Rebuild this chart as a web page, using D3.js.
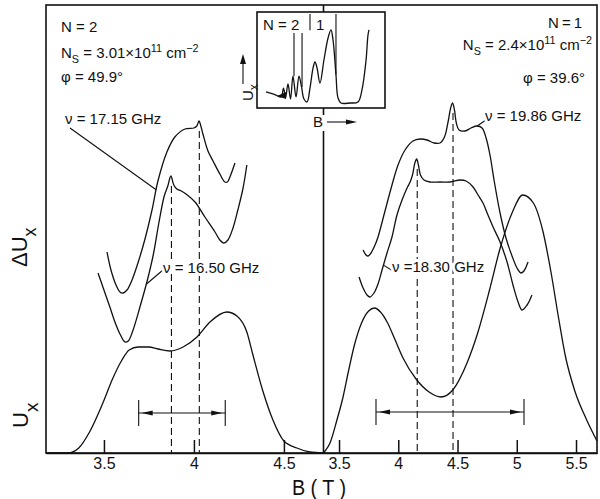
<!DOCTYPE html>
<head>
<meta charset="utf-8">
<script src="https://cdn.jsdelivr.net/npm/d3@7"></script>
<style>
    body { margin: 0; background: #fff; }
    svg { display: block; }
    text { font-family: "Liberation Sans", Arial, sans-serif; fill: #111; }
    .axis path, .axis line { stroke: #111; stroke-width: 1.5; }
    .axis text { font-size: 16px; }
    .curve { fill: none; stroke: #111; stroke-width: 1.3; }
    .dash { stroke: #111; stroke-width: 1.1; stroke-dasharray: 7 4; }
    .thin { stroke: #111; stroke-width: 1.1; }
    .halo { paint-order: stroke; stroke: #fff; stroke-width: 6px; stroke-linejoin: round; }
</style>
</head>
<body>
<script>
    // ---- data (B in tesla, signal in arbitrary units) ----
    var leftTicks = [3.5, 4, 4.5];
    var rightTicks = [3.5, 4, 4.5, 5, 5.5];

    // N = 2 panel
    var leftUx = [[3.178,0],[3.30,0],[3.36,5],[3.42,21],[3.494,50],[3.55,75],[3.60,93],[3.64,103],[3.69,106],
        [3.75,106],[3.80,104],[3.867,102],[3.94,106],[4.017,116],[4.089,131],[4.183,141],[4.239,137],
        [4.294,121],[4.328,98],[4.383,62],[4.439,33],[4.5,12],[4.572,5],[4.644,1],[4.72,0]];
    var left1715 = [[3.517,201],[3.539,183],[3.567,168],[3.589,161],[3.606,160],[3.628,163],[3.656,173],
        [3.689,190],[3.728,214],[3.767,243],[3.80,272],[3.85,301],[3.894,316],[3.95,324],[4.0,325],
        [4.016,327],[4.028,332],[4.04,326],[4.05,319],[4.078,302],[4.106,292],[4.144,279],[4.172,271],
        [4.186,271],[4.2,276],[4.228,290]];
    var left1650 = [[3.467,180],[3.50,163],[3.533,146],[3.561,131],[3.589,119],[3.617,111],[3.635,112],
        [3.66,122],[3.70,146],[3.74,172],[3.775,199],[3.805,230],[3.835,257],[3.855,267],[3.872,277],
        [3.888,268],[3.905,264],[3.93,262],[3.956,259],[4.006,251],[4.061,236],[4.117,221],[4.144,213],
        [4.167,210],[4.189,213],[4.217,225],[4.244,243],[4.272,264],[4.294,288]];
    var leftDashed = [3.875, 4.03];
    var leftRange = [3.693, 4.174];

    // N = 1 panel
    var rightUx = [[3.369,0],[3.382,2],[3.424,10],[3.48,32],[3.534,56],[3.58,82],[3.63,108],[3.69,130],
        [3.75,142],[3.80,145],[3.85,141],[3.91,130],[3.97,114],[4.04,95],[4.15,74],[4.26,61],[4.36,56],
        [4.46,63],[4.58,90],[4.67,120],[4.77,163],[4.86,205],[4.96,240],[5.05,258],[5.14,250],[5.22,222],
        [5.29,180],[5.35,137],[5.41,97],[5.49,62],[5.59,33],[5.677,12]];
    var right1986 = [[3.703,203],[3.728,198],[3.745,197],[3.77,200],[3.804,208],[3.829,216],[3.888,242],
        [3.947,268],[3.998,288],[4.057,303],[4.124,312],[4.184,314],[4.243,313],[4.302,310],[4.352,310],
        [4.39,316],[4.42,331],[4.442,345],[4.458,350],[4.474,343],[4.49,330],[4.513,323],[4.563,322],
        [4.614,325],[4.665,327],[4.707,325],[4.741,315],[4.774,298],[4.808,273],[4.859,240],[4.909,215],
        [4.96,197],[5.002,185],[5.036,180],[5.06,182],[5.095,191]];
    var right1830 = [[3.669,176],[3.703,165],[3.736,158],[3.762,156],[3.795,160],[3.829,169],[3.863,183],
        [3.905,200],[3.947,216],[3.989,238],[4.032,253],[4.074,265],[4.10,271],[4.12,278],[4.14,290],
        [4.155,294],[4.17,288],[4.187,278],[4.217,273],[4.268,271],[4.352,271],[4.437,271],[4.521,273],
        [4.572,272],[4.631,266],[4.673,258],[4.715,250],[4.757,238],[4.80,226],[4.859,211],[4.918,191],
        [4.968,168],[5.011,151],[5.044,143],[5.087,148],[5.128,158]];
    var rightDashed = [4.16, 4.462];
    var rightRange = [3.812, 5.061];

    // inset: U_x vs B sketch (arbitrary 0-100 units)
    var insetTrace = [[7,16.7],[14.8,13.5],[18.8,11.5],[20.7,20.8],[22.3,10.4],[24.2,25],[26.2,9.4],
        [28.1,33.3],[30.5,11.5],[32.8,33.3],[34.8,21.9],[36.7,9.4],[39.1,6.3],[41.4,20.8],[43.8,41.7],
        [45.3,47.9],[46.9,41.7],[49.2,26],[52.3,50],[55.5,72.9],[57.8,81.3],[59.4,70.8],[61.7,34.4],
        [63.3,10.4],[65.6,5.2],[72.7,5.2],[78.9,6.3],[82,18.8],[85.2,50],[86.7,76],[87.5,81.3]];
    var insetMarks = [[28.9, 33, 78], [35.2, 22, 78], [41.4, 81, 98], [61.7, 35, 98]];

    // ---- drawing ----
    var svg = d3.select("body").append("svg")
        .attr("width", 600)
        .attr("height", 499);

    var y = d3.scaleLinear().domain([0, 448]).range([453, 5]);
    var xL = d3.scaleLinear().domain([3.178, 4.72]).range([46, 323.5]);
    var xR = d3.scaleLinear().domain([3.369, 5.677]).range([323.5, 597]);

    // frame
    svg.append("rect").attr("x", 46).attr("y", 5).attr("width", 551).attr("height", 448)
        .attr("fill", "none").attr("stroke", "#111").attr("stroke-width", 1.6);
    [[5, 12], [108, 115], [131, 453]].forEach(function (s) {
        svg.append("line").attr("x1", 323.5).attr("x2", 323.5).attr("y1", s[0]).attr("y2", s[1])
            .attr("stroke", "#111").attr("stroke-width", 1.6);
    });

    function drawAxis(x, ticks) {
        var g = svg.append("g").attr("class", "axis").attr("transform", "translate(0,453)")
            .call(d3.axisBottom(x).tickValues(ticks).tickSize(-13).tickSizeOuter(0).tickPadding(5)
                .tickFormat(d3.format("~g")));
        g.attr("font-family", null).attr("font-size", null);
    }
    drawAxis(xL, leftTicks);
    drawAxis(xR, rightTicks);

    function peakNear(series, b) {
        return d3.max(series.filter(function (d) { return Math.abs(d[0] - b) < 0.03; }), function (d) { return d[1]; });
    }
    function valueAt(series, b) {
        var i = d3.bisector(function (d) { return d[0]; }).left(series, b);
        var a = series[i - 1], c = series[i];
        return a[1] + (c[1] - a[1]) * (b - a[0]) / (c[0] - a[0]);
    }

    // dashed guides from peaks down to the axis
    leftDashed.forEach(function (b, i) {
        var top = peakNear(i === 0 ? left1650 : left1715, b) - 10;
        svg.append("line").attr("class", "dash").attr("x1", xL(b)).attr("x2", xL(b))
            .attr("y1", y(top)).attr("y2", y(0));
    });
    rightDashed.forEach(function (b, i) {
        var top = peakNear(i === 0 ? right1830 : right1986, b) - 10;
        svg.append("line").attr("class", "dash").attr("x1", xR(b)).attr("x2", xR(b))
            .attr("y1", y(top)).attr("y2", y(0));
    });

    function drawCurve(x, data, curve) {
        var line = d3.line().x(function (d) { return x(d[0]); }).y(function (d) { return y(d[1]); }).curve(curve);
        svg.append("path").datum(data).attr("class", "curve").attr("d", line);
    }
    var smooth = d3.curveCatmullRom.alpha(0.5);
    drawCurve(xL, leftUx, d3.curveMonotoneX);
    drawCurve(xL, left1715, smooth);
    drawCurve(xL, left1650, smooth);
    drawCurve(xR, rightUx, d3.curveMonotoneX);
    drawCurve(xR, right1986, smooth);
    drawCurve(xR, right1830, smooth);

    // range bars with arrows
    function rangeBar(x, r, v) {
        var x0 = x(r[0]), x1 = x(r[1]), yy = y(v);
        svg.append("line").attr("class", "thin").attr("x1", x0).attr("x2", x1).attr("y1", yy).attr("y2", yy);
        [x0, x1].forEach(function (xx, i) {
            var s = i === 0 ? 1 : -1;
            svg.append("line").attr("class", "thin").attr("x1", xx).attr("x2", xx)
                .attr("y1", yy - 13).attr("y2", yy + 13);
            svg.append("path").attr("fill", "#111")
                .attr("d", "M" + (xx + 3 * s) + "," + yy + "L" + (xx + 14 * s) + "," + (yy - 2.6) +
                    "L" + (xx + 14 * s) + "," + (yy + 2.6) + "Z");
        });
    }
    rangeBar(xL, leftRange, 40);
    rangeBar(xR, rightRange, 41);

    // text helper: parts = [text, shift] where shift -1 = superscript, 1 = subscript
    function rich(x0, y0, parts, size, anchor) {
        var t = svg.append("text").attr("x", x0).attr("y", y0)
            .attr("text-anchor", anchor || "start").style("font-size", size + "px");
        var prev = 0;
        parts.forEach(function (p) {
            var s = p[1] || 0;
            var off = s === -1 ? -size * 0.42 : (s === 1 ? size * 0.3 : 0);
            t.append("tspan").attr("dy", off - prev)
                .style("font-size", s ? (size * 0.72) + "px" : null).text(p[0]);
            prev = off;
        });
        return t;
    }

    // N = 2 block
    rich(61, 32, [["N = 2"]], 15);
    rich(61, 58, [["N"], ["S", 1], [" = 3.01\u00d710"], ["11", -1], [" cm"], ["\u22122", -1]], 15);
    rich(61, 82, [["\u03c6 = 49.9\u00b0"]], 15);
    // N = 1 block
    rich(582, 28, [["N\u2009=\u20091"]], 15, "end");
    rich(592, 50, [["N"], ["S", 1], [" = 2.4\u00d710"], ["11", -1], [" cm"], ["\u22122", -1]], 15, "end");
    rich(585, 83, [["\u03c6 = 39.6\u00b0"]], 15, "end");

    // frequency labels with leaders
    function label(x, b, series, txt, tx, ty, lx, ly) {
        svg.append("line").attr("class", "thin").attr("x1", lx).attr("y1", ly)
            .attr("x2", x(b)).attr("y2", y(valueAt(series, b)));
        svg.append("text").attr("class", "halo").attr("x", tx).attr("y", ty)
            .style("font-size", "15px").text(txt);
    }
    label(xL, 3.79, left1715, "\u03bd = 17.15 GHz", 65, 124, 70, 128);
    label(xL, 3.735, left1650, "\u03bd = 16.50 GHz", 163, 273, 163, 270);
    label(xR, 4.665, right1986, "\u03bd = 19.86 GHz", 485, 121, 486, 120);
    label(xR, 3.875, right1830, "\u03bd =18.30 GHz", 392, 272, 393, 271);

    // axis titles
    var t1 = svg.append("text").attr("transform", "translate(27,267) rotate(-90)").style("font-size", "22px");
    t1.append("tspan").text("\u0394U");
    t1.append("tspan").attr("dy", 9).style("font-size", "18px").text("x");
    var t2 = svg.append("text").attr("transform", "translate(28,428) rotate(-90)").style("font-size", "22px");
    t2.append("tspan").text("U");
    t2.append("tspan").attr("dy", 10).style("font-size", "19px").text("x");
    svg.append("text").attr("transform", "translate(319,494.5) scale(0.9,1)")
        .attr("text-anchor", "middle").style("font-size", "22px").text("B ( T )");

    // inset
    var ix = d3.scaleLinear().domain([0, 100]).range([257, 385]);
    var iy = d3.scaleLinear().domain([0, 100]).range([108, 12]);
    svg.append("rect").attr("x", 257).attr("y", 12).attr("width", 128).attr("height", 96)
        .attr("fill", "#fff").attr("stroke", "#111").attr("stroke-width", 1.6);
    svg.append("path").datum(insetTrace).attr("class", "curve").attr("stroke-width", 1.1)
        .attr("d", d3.line().x(function (d) { return ix(d[0]); }).y(function (d) { return iy(d[1]); }).curve(smooth));
    insetMarks.forEach(function (m) {
        svg.append("line").attr("class", "thin").attr("x1", ix(m[0])).attr("x2", ix(m[0]))
            .attr("y1", iy(m[1])).attr("y2", iy(m[2]));
    });
    svg.append("path").attr("fill", "#111")
        .attr("d", "M" + ix(15.6) + "," + iy(12.5) + "L" + ix(22.7) + "," + iy(16.7) + "L" + ix(22.7) + "," + iy(9.4) + "Z");
    svg.append("text").attr("x", 263).attr("y", 30).style("font-size", "15px").text("N = 2");
    svg.append("text").attr("x", 316).attr("y", 30).style("font-size", "15px").text("1");
    var t3 = svg.append("text").attr("transform", "translate(253,101) rotate(-90)").style("font-size", "15px");
    t3.append("tspan").text("U");
    t3.append("tspan").attr("dy", 5).style("font-size", "12px").text("x");
    svg.append("line").attr("class", "thin").attr("x1", 243).attr("x2", 243).attr("y1", 84).attr("y2", 62);
    svg.append("path").attr("fill", "#111").attr("d", "M243,54L240,64L246,64Z");
    svg.append("text").attr("x", 313).attr("y", 127).style("font-size", "15px").text("B");
    svg.append("line").attr("class", "thin").attr("x1", 327).attr("x2", 348).attr("y1", 122).attr("y2", 122);
    svg.append("path").attr("fill", "#111").attr("d", "M357,122L346,119.5L346,124.5Z");
</script>
</body>
